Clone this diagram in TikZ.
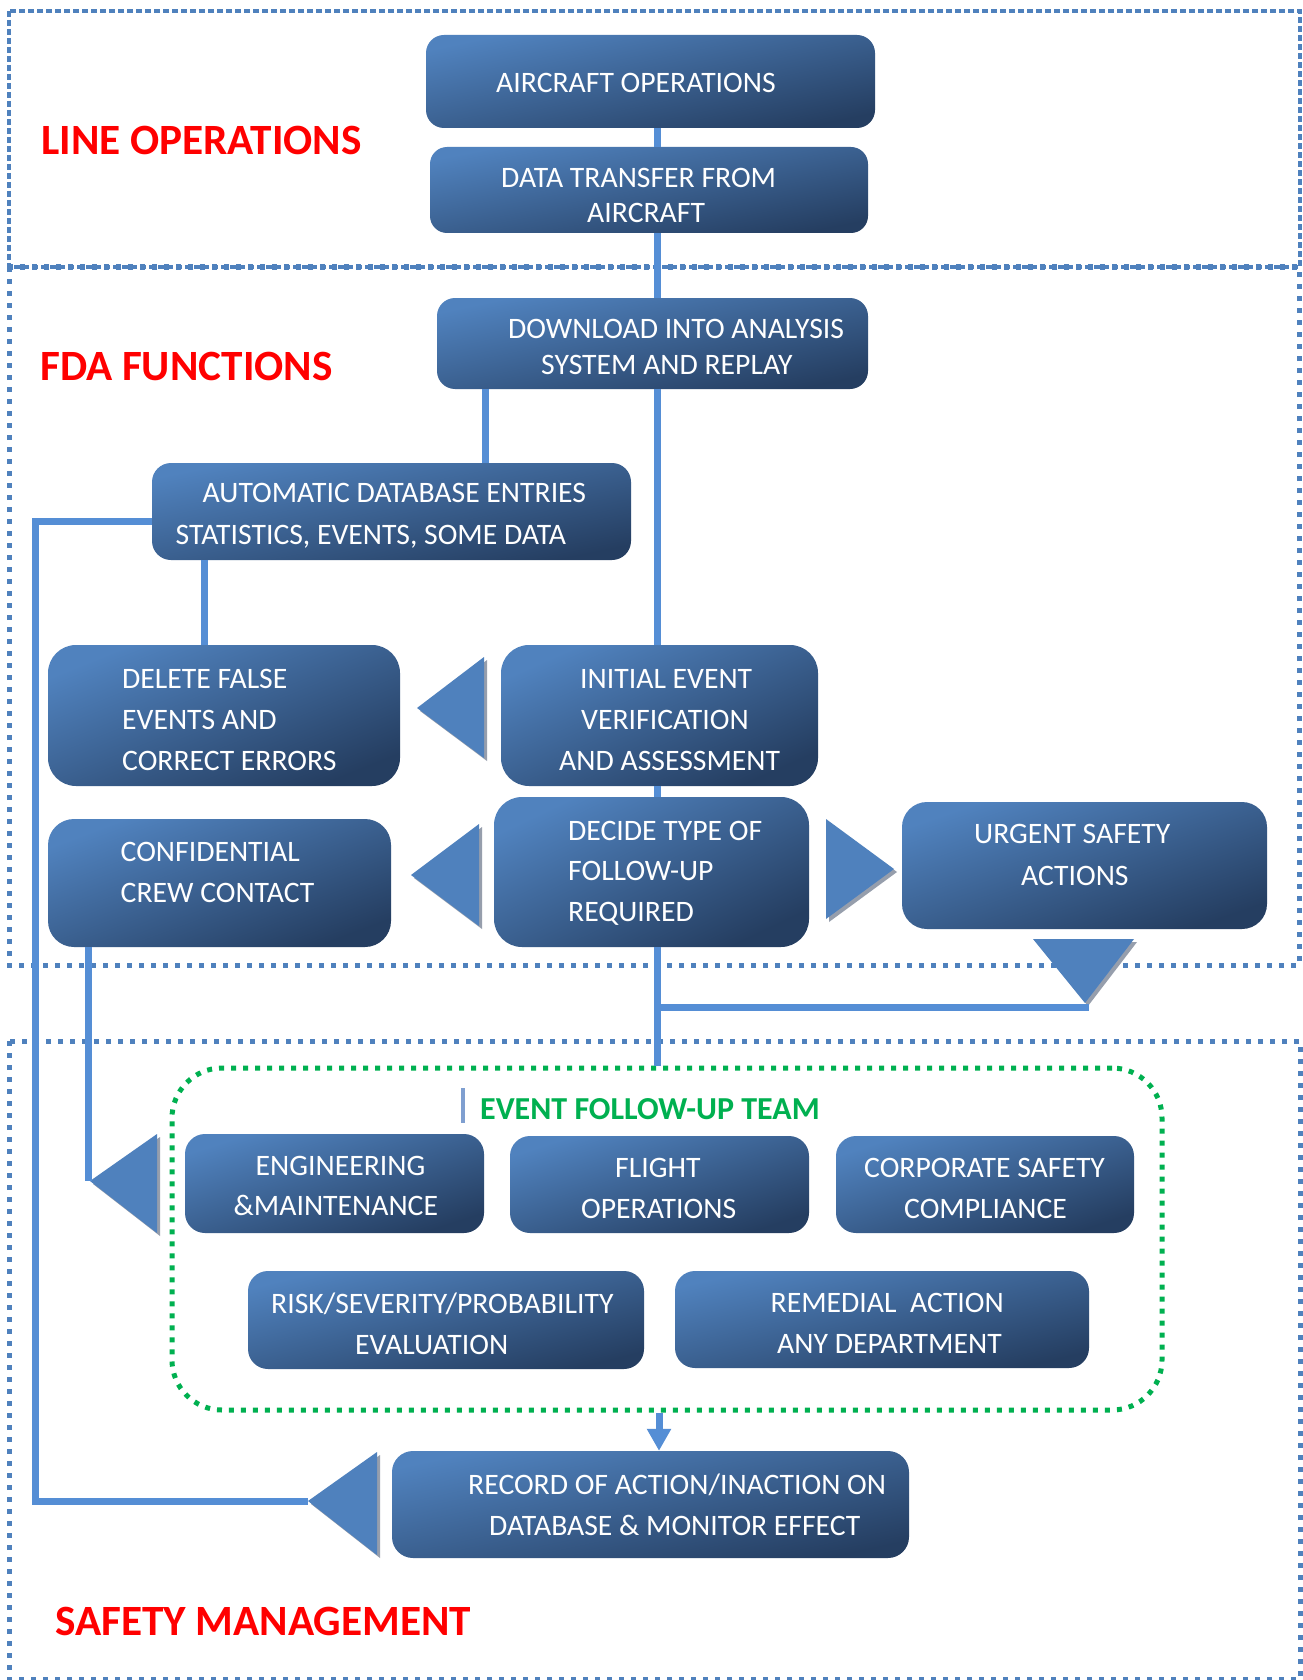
\documentclass[tikz,border=0pt]{standalone}
\usepackage{fontspec}
\setmainfont{Carlito}
\usetikzlibrary{arrows.meta,calc}
\definecolor{boxlight}{RGB}{80,130,190}
\definecolor{boxdark}{RGB}{37,62,97}
\definecolor{connblue}{RGB}{85,142,213}
\definecolor{frameblue}{RGB}{79,129,189}
\definecolor{trifill}{RGB}{79,129,189}
\definecolor{trishadow}{RGB}{150,158,172}
\definecolor{teamgreen}{RGB}{0,176,80}
\definecolor{titlered}{RGB}{255,0,0}
\definecolor{barblue}{RGB}{127,159,208}
\newcommand\mktri[4]{%
  \coordinate (#1) at (#2);
  \fill[trishadow,shift={(3,3)}] (#2) -- (#3) -- (#4) -- cycle;
  \fill[trifill] (#2) -- (#3) -- (#4) -- cycle;}
\begin{document}
\begin{tikzpicture}[x=1pt,y=-1pt,
  box/.style={top color=boxlight,bottom color=boxdark,shading angle=#1,inner sep=0pt,draw=none},
  btext/.style={text=white,font=\fontsize{29.7}{41}\selectfont,align=left,anchor=west,inner sep=0pt},
  conn/.style={draw=connblue,line width=7pt,line join=miter},
  frameA/.style={draw=frameblue,line width=4pt,dash pattern=on 6pt off 3pt},
  frameB/.style={draw=frameblue,line width=5pt,dash pattern=on 5pt off 7pt},
  teambox/.style={draw=teamgreen,line width=5pt,dash pattern=on 5pt off 7pt,inner sep=0pt},
  titlesty/.style={text=titlered,font=\bfseries\fontsize{43.2}{50}\selectfont,anchor=west,inner sep=0pt},
  teamlbl/.style={text=teamgreen,font=\bfseries\fontsize{32}{36}\selectfont,anchor=west,inner sep=0pt}]
\useasboundingbox (0,0) rectangle (1302,1680);
\fill[white] (0,0) rectangle (1302,1680);

% section frames
\draw[frameB] (9,267) rectangle (1299,965);
\draw[frameB] (9,1041) rectangle (1300,1679);
\draw[frameA] (9,11) rectangle (1300,267);

% team frame
\node[teambox,minimum width=990pt,minimum height=342pt,rounded corners=50pt] (team) at (667,1239) {};

% boxes
\node[box=12,rounded corners=18pt,minimum width=449pt,minimum height=93pt] (aircraft) at (650.5,81.5) {};
\node[box=11,rounded corners=17pt,minimum width=438pt,minimum height=86pt] (transfer) at (649,190) {};
\node[box=12,rounded corners=18pt,minimum width=431pt,minimum height=91pt] (download) at (652.5,343.5) {};
\node[box=11.5,rounded corners=19pt,minimum width=479pt,minimum height=97pt] (auto) at (391.5,511.5) {};
\node[box=22,rounded corners=28pt,minimum width=352pt,minimum height=141pt] (delete) at (224,715.5) {};
\node[box=24,rounded corners=28pt,minimum width=317pt,minimum height=141pt] (initial) at (659.5,715.5) {};
\node[box=20.5,rounded corners=26pt,minimum width=343pt,minimum height=128pt] (conf) at (219.5,883) {};
\node[box=25.5,rounded corners=28pt,minimum width=315pt,minimum height=150pt] (decide) at (651.5,872) {};
\node[box=19,rounded corners=25pt,minimum width=365pt,minimum height=127pt] (urgent) at (1084.5,865.5) {};
\node[box=18,rounded corners=20pt,minimum width=299pt,minimum height=99pt] (eng) at (334.5,1183.5) {};
\node[box=18,rounded corners=20pt,minimum width=299pt,minimum height=97pt] (flight) at (659.5,1184.5) {};
\node[box=18,rounded corners=20pt,minimum width=298pt,minimum height=97pt] (corp) at (985,1184.5) {};
\node[box=14,rounded corners=20pt,minimum width=396pt,minimum height=98pt] (risk) at (446,1320) {};
\node[box=13,rounded corners=20pt,minimum width=414pt,minimum height=97pt] (remedial) at (882,1319.5) {};
\node[box=12,rounded corners=21pt,minimum width=517pt,minimum height=107pt] (record) at (650.5,1504.5) {};

% triangles
\mktri{t1}{417,708}{484,657}{484,758}
\mktri{t2}{411,875}{479,824}{479,926}
\mktri{t3}{894,869}{826,819}{826,919}
\mktri{t4}{1085,1003}{1033,939}{1134,939}
\mktri{t5}{90,1181}{157,1134}{157,1233}
\mktri{t6}{308,1501}{377,1452}{377,1555}

% connectors
\coordinate (sp) at (657,0);
\coordinate (dl) at (485,0);
\coordinate (ad) at (204,0);
\coordinate (ar) at (659,0);
\coordinate (cl) at (88,0);
\coordinate (loopA) at (35,521.5);
\coordinate (loopB) at (35,1501);
\coordinate (hk) at (1089,1007);
\draw[conn] (aircraft.south -| sp) -- (transfer.north -| sp);
\draw[conn] (transfer.south -| sp) -- (download.north -| sp);
\draw[conn] (download.south -| sp) -- (initial.north -| sp);
\draw[conn] (initial.south -| sp) -- (decide.north -| sp);
\draw[conn] (decide.south -| sp) -- (team.north -| sp);
\draw[conn] (download.south -| dl) -- (auto.north -| dl);
\draw[conn] (auto.south -| ad) -- (delete.north -| ad);
\draw[conn] (auto.west |- loopA) -- (loopA) -- (loopB) -- (t6);
\draw[conn] (conf.south -| cl) -- (cl |- t5);
\draw[conn] (sp |- hk) -- (hk);
\draw[conn,-{Triangle[width=23pt,length=22pt]}] (team.south -| ar) -- (record.north -| ar);

% box texts
\node[btext] (aircraftT) at (496,82.5) {AIRCRAFT OPERATIONS};
\node[btext,font=\fontsize{29.7}{35}\selectfont] (transferT) at (501,195.5) {DATA TRANSFER FROM\\\hspace*{86pt}AIRCRAFT};
\node[btext,font=\fontsize{29.7}{36}\selectfont] (downloadT) at (508,347) {DOWNLOAD INTO ANALYSIS\\\hspace*{33pt}SYSTEM AND REPLAY};
\node[btext,font=\fontsize{29.7}{42}\selectfont] (autoT) at (175.5,516) {\hspace*{27pt}AUTOMATIC DATABASE ENTRIES\\STATISTICS, EVENTS, SOME DATA};
\node[btext] (deleteT) at (122,720) {DELETE FALSE\\EVENTS AND\\CORRECT ERRORS};
\node[btext] (initialT) at (559,720) {\hspace*{21pt}INITIAL EVENT\\\hspace*{22pt}VERIFICATION\\AND ASSESSMENT};
\node[btext] (confT) at (120.5,872.5) {CONFIDENTIAL\\CREW CONTACT};
\node[btext,font=\fontsize{29.7}{40.5}\selectfont] (decideT) at (568,873) {DECIDE TYPE OF\\FOLLOW-UP\\REQUIRED};
\node[btext,font=\fontsize{29.7}{42}\selectfont] (urgentT) at (974,855) {URGENT SAFETY\\\hspace*{47pt}ACTIONS};
\node[btext,font=\fontsize{29.7}{40}\selectfont] (engT) at (233.5,1186) {\hspace*{22pt}ENGINEERING\\\&MAINTENANCE};
\node[btext] (flightT) at (581,1188.5) {\hspace*{34pt}FLIGHT\\OPERATIONS};
\node[btext] (corpT) at (864,1188.5) {CORPORATE SAFETY\\\hspace*{40pt}COMPLIANCE};
\node[btext] (riskT) at (271,1323.5) {RISK/SEVERITY/PROBABILITY\\\hspace*{84pt}EVALUATION};
\node[btext] (remedialT) at (770.5,1323.5) {REMEDIAL\ \ ACTION\\\hspace*{6.5pt}ANY DEPARTMENT};
\node[btext] (recordT) at (468,1504.5) {RECORD OF ACTION/INACTION ON\\\hspace*{21pt}DATABASE \& MONITOR EFFECT};

% section titles
\node[titlesty] (lineops) at (41,140) {LINE OPERATIONS};
\node[titlesty] (fdafun) at (40,366.5) {FDA FUNCTIONS};
\node[titlesty] (safemgmt) at (55,1621.5) {SAFETY MANAGEMENT};
\node[teamlbl] (eventlbl) at (480,1109) {EVENT FOLLOW-UP TEAM};
\draw[barblue,line width=4pt] (463,1088) -- (463,1123);
\end{tikzpicture}
\end{document}
